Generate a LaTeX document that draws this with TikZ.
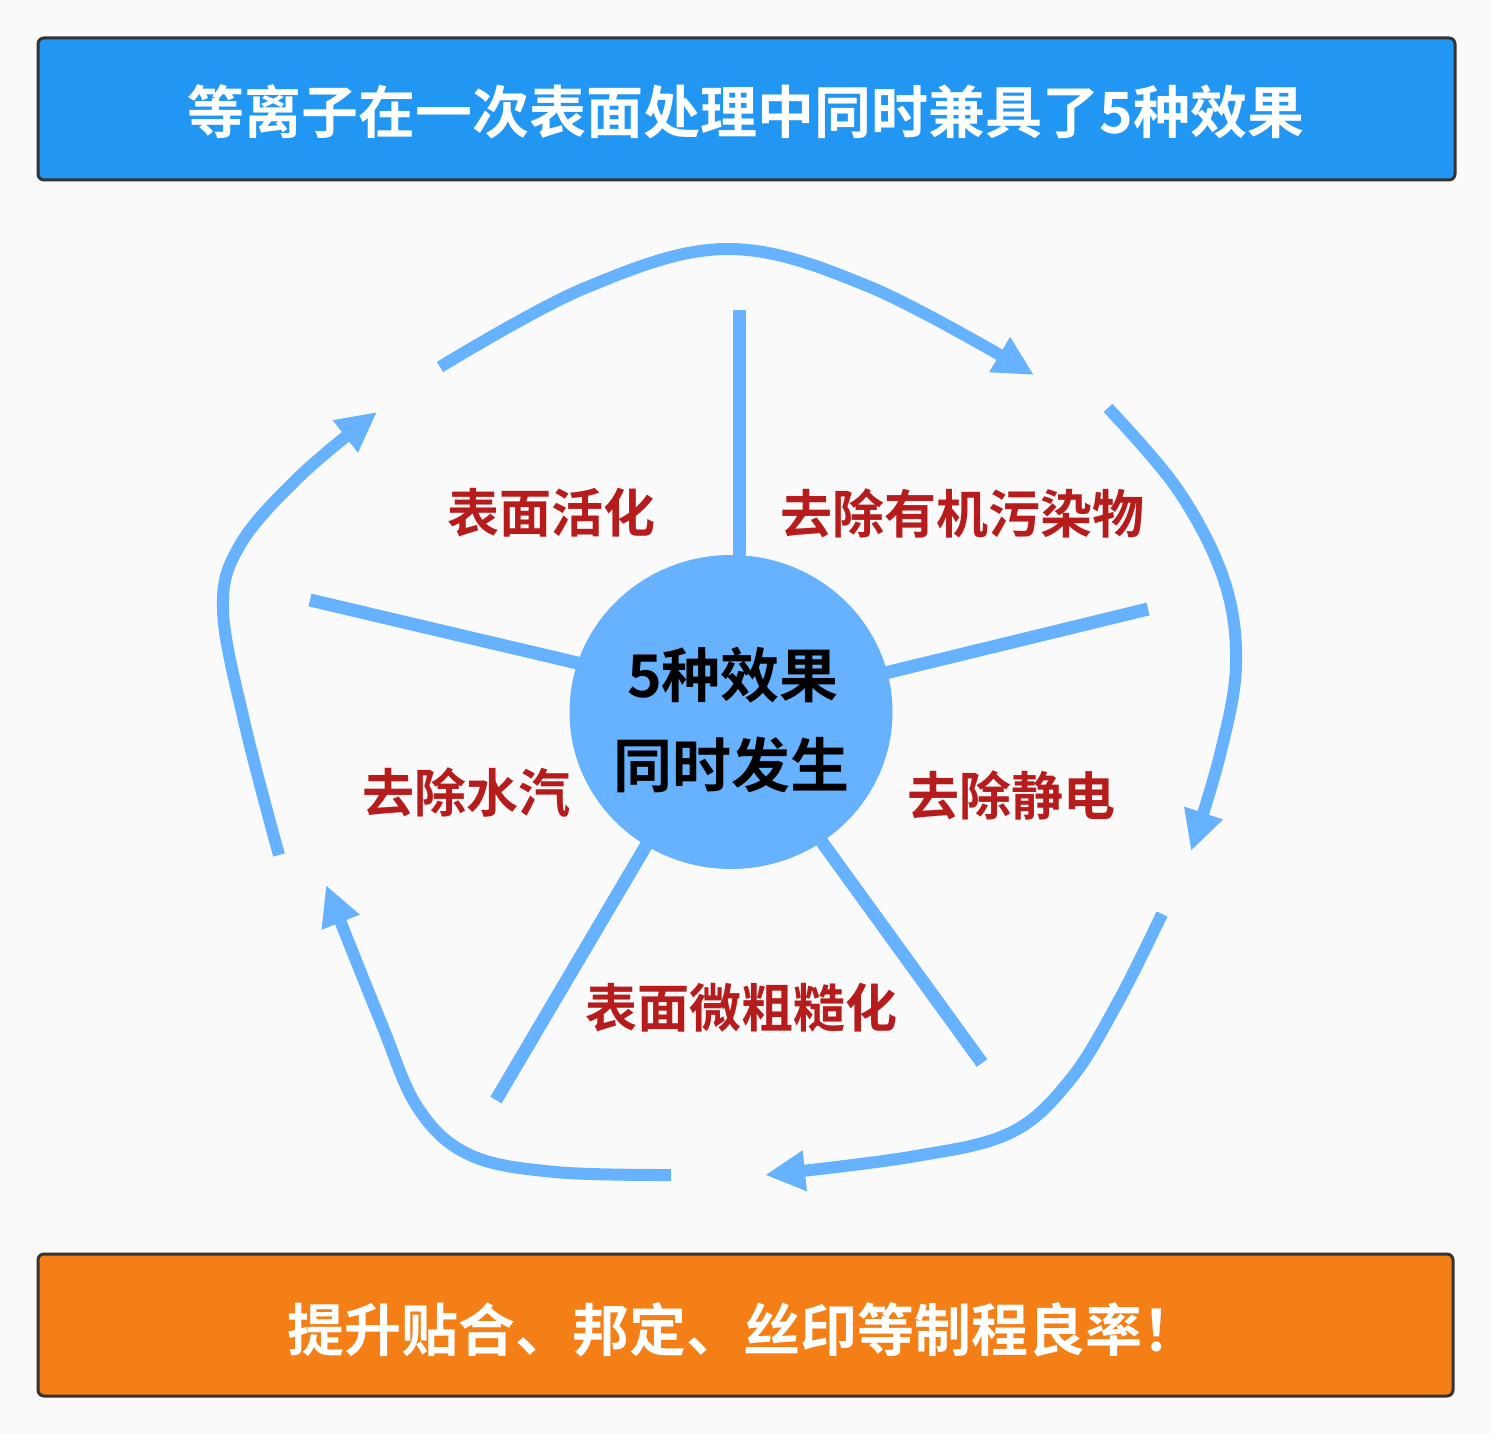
\documentclass[tikz,border=0pt]{standalone}
\usepackage{fontspec}
\setmainfont{Noto Sans CJK SC}[BoldFont={* Bold}]
\usetikzlibrary{arrows.meta,shapes.geometric}
\definecolor{bg}{HTML}{FAFAFA}
\definecolor{topblue}{HTML}{2196F3}
\definecolor{botorange}{HTML}{F47F17}
\definecolor{lblue}{HTML}{66B2FF}
\definecolor{lred}{HTML}{B71C1C}
\definecolor{edge}{HTML}{333333}
\tikzset{
  banner/.style={draw=edge,line width=3pt,rounded corners=6pt},
  flow/.style={draw=lblue,line width=12pt,-{Triangle[length=40pt,width=38pt]}},
  spoke/.style={draw=lblue,line width=13pt},
  effect/.style={text=lred,font=\bfseries\fontsize{52}{60}\selectfont,inner sep=0pt},
  hubtext/.style={text=black,font=\bfseries\fontsize{59}{70}\selectfont,inner sep=0pt},
  bannertext/.style={text=white,font=\bfseries\fontsize{57}{66}\selectfont,inner sep=0pt}
}
\begin{document}
\begin{tikzpicture}[x=1pt,y=-1pt]
\fill[bg] (0,0) rectangle (1492,1434);
\useasboundingbox (0,0) rectangle (1492,1434);
% banners
\draw[banner,fill=topblue] (38,38) rectangle (1455,180);
\node[bannertext] (title) at (746,112) {等离子在一次表面处理中同时兼具了5种效果};
\draw[banner,fill=botorange] (38,1254) rectangle (1453,1396);
\node[bannertext,anchor=west] (footer) at (287,1330) {提升贴合、邦定、丝印等制程良率！};
% cycle arrows
\draw[flow] plot[smooth,tension=0.6] coordinates {(440,367) (585,288) (727,249) (870,287) (1034,375)};
\draw[flow] plot[smooth,tension=0.6] coordinates {(1108,408) (1178,490) (1224,580) (1236,665) (1220,755) (1191,851)};
\draw[flow] plot[smooth,tension=0.6] coordinates {(1162,914) (1118,1002) (1070,1080) (1010,1133) (910,1157) (765,1175)};
\draw[flow] plot[smooth,tension=0.6] coordinates {(671,1175) (555,1172) (470,1155) (418,1108) (380,1020) (326,885)};
\draw[flow] plot[smooth,tension=0.6] coordinates {(279,855) (245,725) (223,610) (240,545) (300,476) (377,412)};
% spokes
\coordinate (hc) at (731,712);
\coordinate (s1) at (739,310);
\coordinate (s1i) at (739,600);
\coordinate (s2) at (1148,609);
\coordinate (s2i) at (840,684);
\coordinate (s3) at (982,1063);
\coordinate (s3i) at (790,798);
\coordinate (s4) at (496,1100);
\coordinate (s4i) at (670,805);
\coordinate (s5) at (310,600);
\coordinate (s5i) at (620,673);
\draw[spoke] (s1) -- (s1i);
\draw[spoke] (s2) -- (s2i);
\draw[spoke] (s3) -- (s3i);
\draw[spoke] (s4) -- (s4i);
\draw[spoke] (s5) -- (s5i);
% hub
\node[ellipse,fill=lblue,minimum width=323pt,minimum height=314pt,inner sep=0pt] (hub) at (hc) {};
\node[hubtext] (h1) at (733,675) {5种效果};
\node[hubtext] (h2) at (731,765) {同时发生};
% effects
\node[effect] (e1) at (551,513) {表面活化};
\node[effect] (e2) at (962,513) {去除有机污染物};
\node[effect] (e3) at (1011,795) {去除静电};
\node[effect] (e4) at (741,1008) {表面微粗糙化};
\node[effect] (e5) at (466,792) {去除水汽};
\end{tikzpicture}
\end{document}
